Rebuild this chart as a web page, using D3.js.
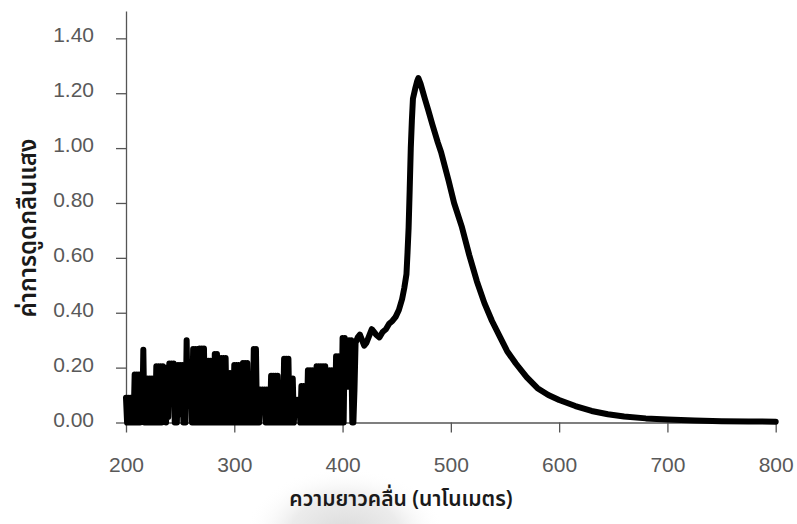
<!DOCTYPE html>
<html>
<head>
<meta charset="utf-8">
<script src="https://cdn.jsdelivr.net/npm/d3@7"></script>
<style>
  html, body { margin: 0; padding: 0; background: #ffffff; }
  svg { display: block; }
  .tick text { font-family: "Liberation Sans", Arial, Helvetica, sans-serif; font-size: 21px; fill: #595959; }
  .axis path, .axis line { stroke: #555555; stroke-width: 1.3; }
  .title { font-family: "Noto Sans Thai", "Loma", "Garuda", "Norasi", "DejaVu Sans", "Noto Sans", sans-serif; font-weight: 600; fill: #1a1a1a; }
</style>
</head>
<body>
<svg id="chart" width="797" height="524"></svg>
<script>
// Absorbance spectrum: noisy baseline below ~410 nm (1 nm steps), then a single band near 470 nm.
const noiseWl = d3.range(200, 411, 1);
const noiseAbs = [
  0.09, 0, 0.09, 0, 0.09, 0, 0.09, 0, 0.175, 0,
  0.175, 0, 0.175, 0, 0.175, 0.02, 0.265, 0, 0.16, 0,
  0.16, 0, 0.16, 0, 0.16, 0, 0.16, 0, 0.205, 0,
  0.205, 0, 0.205, 0, 0.205, 0.01, 0.20, 0, 0.20, 0.02,
  0.215, 0.07, 0.215, 0.07, 0.215, 0, 0.21, 0, 0.21, 0.03,
  0.21, 0.03, 0.21, 0, 0.21, 0, 0.30, 0.06, 0.20, 0.06,
  0.20, 0, 0.268, 0, 0.268, 0, 0.268, 0, 0.27, 0,
  0.27, 0, 0.27, 0, 0.225, 0, 0.225, 0, 0.225, 0,
  0.225, 0, 0.25, 0, 0.25, 0, 0.235, 0, 0.235, 0,
  0.235, 0, 0.235, 0, 0.18, 0, 0.18, 0, 0.18, 0,
  0.21, 0, 0.21, 0, 0.21, 0, 0.20, 0, 0.217, 0,
  0.217, 0, 0.217, 0, 0.13, 0, 0.13, 0, 0.268, 0,
  0.268, 0, 0.12, 0, 0.12, 0.04, 0.12, 0.04, 0.12, 0,
  0.12, 0, 0.12, 0, 0.17, 0, 0.17, 0, 0.17, 0,
  0.17, 0, 0.12, 0, 0.12, 0, 0.232, 0, 0.232, 0,
  0.232, 0, 0.16, 0, 0.16, 0, 0.083, 0.05, 0.083, 0.05,
  0.083, 0, 0.133, 0, 0.133, 0, 0.133, 0, 0.19, 0,
  0.19, 0, 0.19, 0, 0.10, 0, 0.205, 0, 0.205, 0,
  0.205, 0, 0.205, 0, 0.205, 0, 0.19, 0, 0.19, 0,
  0.19, 0, 0.19, 0, 0.241, 0, 0.241, 0, 0.241, 0,
  0.308, 0, 0.308, 0.13, 0.30, 0.13, 0.30, 0.13, 0.30, 0,
  0
];
const bandWl = [
  411, 412, 414, 416, 418, 420, 422, 425, 427, 429,
  431, 434, 437, 440, 443, 446, 449, 452, 455, 457,
  459, 460, 461, 462, 463, 464, 465, 467, 469, 470,
  472, 476, 479, 483, 488, 491, 498, 503, 510, 517,
  524, 531, 538, 545, 552, 560, 570, 580, 590, 600,
  615, 630, 645, 660, 680, 700, 725, 750, 775, 800
];
const bandAbs = [
  0.12, 0.29, 0.31, 0.32, 0.30, 0.28, 0.29, 0.32, 0.34, 0.33,
  0.32, 0.31, 0.33, 0.34, 0.36, 0.37, 0.385, 0.41, 0.45, 0.49,
  0.54, 0.62, 0.71, 0.85, 1.00, 1.10, 1.18, 1.215, 1.245, 1.255,
  1.235, 1.18, 1.14, 1.085, 1.02, 0.985, 0.88, 0.80, 0.715, 0.61,
  0.515, 0.435, 0.37, 0.315, 0.26, 0.215, 0.165, 0.125, 0.10, 0.082,
  0.06, 0.042, 0.03, 0.022, 0.015, 0.011, 0.007, 0.005, 0.004, 0.003
];
const xTicks = [200, 300, 400, 500, 600, 700, 800];
const yTicks = [0, 0.2, 0.4, 0.6, 0.8, 1.0, 1.2, 1.4];
const xTitle = "ความยาวคลื่น (นาโนเมตร)";
const yTitle = "ค่าการดูดกลืนแสง";

const spectrum = noiseWl.map((w, i) => ({ w, a: noiseAbs[i] }))
  .concat(bandWl.map((w, i) => ({ w, a: bandAbs[i] })));

const svg = d3.select("#chart");
const x = d3.scaleLinear().domain([200, 800]).range([126, 775.7]);
const y = d3.scaleLinear().domain([0, 1.5]).range([422.5, 10.9]);

// soft grey glow behind the x-axis title
const defs = svg.append("defs");
const grad = defs.append("radialGradient").attr("id", "glow");
grad.append("stop").attr("offset", "0%").attr("stop-color", "#dadada").attr("stop-opacity", 1);
grad.append("stop").attr("offset", "55%").attr("stop-color", "#e8e8e8").attr("stop-opacity", 0.85);
grad.append("stop").attr("offset", "100%").attr("stop-color", "#ffffff").attr("stop-opacity", 0);
svg.append("ellipse")
  .attr("cx", 345).attr("cy", 534).attr("rx", 100).attr("ry", 66)
  .attr("fill", "url(#glow)");

// y axis
const yAxis = svg.append("g").attr("class", "axis")
  .attr("transform", `translate(${x(200)},0)`)
  .call(d3.axisLeft(y).tickValues(yTicks).tickSize(10).tickSizeOuter(0).tickPadding(22)
    .tickFormat(d3.format(".2f")));
yAxis.selectAll(".tick text").attr("dy", "0.17em");

// x axis
svg.append("g").attr("class", "axis")
  .attr("transform", `translate(0,${y(0)})`)
  .call(d3.axisBottom(x).tickValues(xTicks).tickSize(10).tickSizeOuter(0).tickPadding(25)
    .tickFormat(d3.format("d")));

// spectrum trace
const line = d3.line().x(d => x(d.w)).y(d => y(d.a)).curve(d3.curveLinear);
svg.append("path")
  .datum(spectrum)
  .attr("d", line)
  .attr("fill", "none")
  .attr("stroke", "#000000")
  .attr("stroke-width", 6)
  .attr("stroke-linejoin", "round")
  .attr("stroke-linecap", "round");

// axis titles
svg.append("text").attr("class", "title")
  .attr("x", 401).attr("y", 506)
  .attr("text-anchor", "middle")
  .style("font-size", "21px")
  .text(xTitle);

svg.append("text").attr("class", "title")
  .attr("transform", "translate(36,228) rotate(-90)")
  .attr("text-anchor", "middle")
  .style("font-size", "24px")
  .text(yTitle);
</script>
</body>
</html>
